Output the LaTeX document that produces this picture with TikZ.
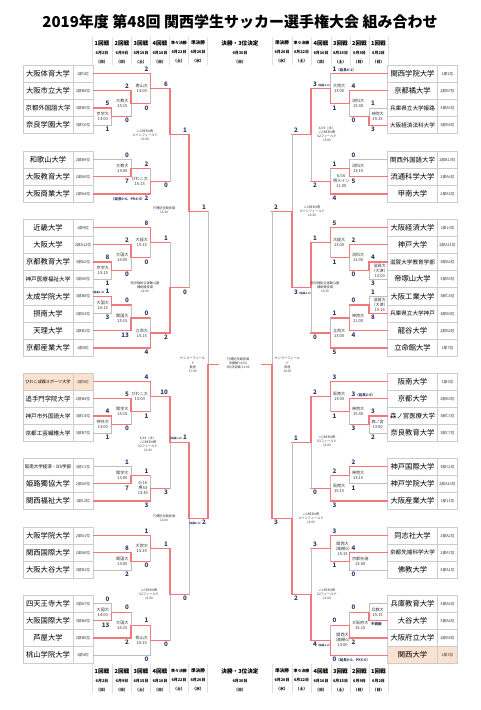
\documentclass[tikz,border=0pt]{standalone}
\usepackage{fontspec}
\setmainfont{Noto Sans CJK JP}
\usetikzlibrary{calc,positioning}
\definecolor{winred}{RGB}{243,120,126}
\definecolor{losegray}{RGB}{190,190,190}
\definecolor{cellgray}{RGB}{204,204,204}
\definecolor{scoreblue}{RGB}{44,60,104}
\definecolor{hlpeach}{RGB}{251,225,208}

\newcommand\nt[1]{{\fontsize{3.5}{3.5}\selectfont#1}}
\newcommand\tn[1]{{\fontsize{2.6}{2.6}\selectfont#1}}

% one match: name, upper entry, lower entry, column, winner (t/b), loser's entry line, upper score, lower score, venue
\newcommand\bout[9]{%
  \coordinate (#1) at ($(#2 -| #4)!.5!(#3 -| #4)$);
  \if t#5
    \draw[#6] (#3) -- (#3 -| #4);
    \draw[lose] (#3 -| #4) -- (#1);
    \draw[win] (#2) -- (#2 -| #4) -- (#1);
  \else
    \draw[#6] (#2) -- (#2 -| #4);
    \draw[lose] (#2 -| #4) -- (#1);
    \draw[win] (#3) -- (#3 -| #4) -- (#1);
  \fi
  \node[score,anchor=\tside] (#1t) at ($(#2 -| #4)+(\scx,-1.4)$) {#7};
  \node[score,anchor=\bside] (#1b) at ($(#3 -| #4)+(\scx,1)$) {#8};
  \node[venue,anchor=\vside] (#1v) at ($(#1)+(\vnx,0)$) {#9};
}

\begin{document}
\begin{tikzpicture}[x=1pt,y=-1pt,line cap=rect,
  win/.style={draw=winred,line width=1.2pt},
  lose/.style={draw=losegray,line width=1pt},
  team/.style={draw=cellgray,line width=.8pt,minimum width=50pt,minimum height=17.2pt,inner sep=0pt,font=\fontsize{7.3}{8}\selectfont},
  seed/.style={draw=cellgray,line width=.8pt,minimum width=20pt,minimum height=17.2pt,inner sep=0pt,font=\fontsize{3.8}{4}\selectfont,text=black!80},
  score/.style={font=\bfseries\fontsize{6.2}{6.2}\selectfont,text=scoreblue,inner sep=.6pt},
  venue/.style={font=\fontsize{4.1}{5}\selectfont,align=center,text=black!80,inner sep=.5pt},
  wide/.style={venue,font=\fontsize{3.2}{4.1}\selectfont},
  head/.style={font=\bfseries\fontsize{5.6}{9}\selectfont,align=center},
  heading/.style={font=\bfseries\fontsize{15}{15}\selectfont},
  colsep/.style={draw=black!12,line width=.8pt}]
\useasboundingbox (0,0) rectangle (480,710);

\node[heading] (ttl) at (240,22) {2019年度 第48回 関西学生サッカー選手権大会 組み合わせ};

% round headers, top and bottom
\foreach \x/\rd/\dt/\dy/\hs [count=\i] in {102/1回戦/6月2日/日/5.6, 122/2回戦/6月9日/日/5.6, 141/3回戦/6月15日/土/5.6, 160/4回戦/6月16日/日/5.6, 179/準々決勝/6月22日/土/3.9, 198/準決勝/6月26日/水/4.6, 282/準決勝/6月26日/水/4.6, 301.5/準々決勝/6月22日/土/3.9, 321/4回戦/6月16日/日/5.6, 340.5/3回戦/6月15日/土/5.6, 359.5/2回戦/6月9日/日/5.6, 378.5/1回戦/6月2日/日/5.6}
{
  \node[head] (ht\i) at (\x,52) {{\fontsize{\hs}{9}\selectfont\rd}\\{\fontsize{3.9}{9}\selectfont\dt}\\{\fontsize{3.9}{9}\selectfont（\dy）}};
  \node[head] (hb\i) at (\x,680) {{\fontsize{\hs}{9}\selectfont\rd}\\{\fontsize{3.9}{9}\selectfont\dt}\\{\fontsize{3.9}{9}\selectfont（\dy）}};
}
\node[head] (htf) at (240,52) {決勝・3位決定\\{\fontsize{3.9}{9}\selectfont 6月30日}\\{\fontsize{3.9}{9}\selectfont（日）}};
\node[head] (hbf) at (240,680) {決勝・3位決定\\{\fontsize{3.9}{9}\selectfont 6月30日}\\{\fontsize{3.9}{9}\selectfont（日）}};
\foreach \x in {92.7,112,131.7,150.7,169.3,188.3,207.3,272,292,311,331,350,369,388}
{
  \draw[colsep] (\x,37) -- (\x,65);
  \draw[colsep] (\x,664) -- (\x,693);
}

% teams, left
\foreach \k/\y/\nm/\sd/\fs/\fc in {
 1/73.6/大阪体育大学/1部1位/7.3/white, 2/90.8/大阪市立大学/2部B4位/7.3/white,
 3/108/京都外国語大学/3部B5位/6.4/white, 4/125.2/奈良学園大学/3部C6位/7.3/white,
 5/159.6/和歌山大学/2部B9位/7.3/white, 6/176.8/大阪教育大学/2部A5位/7.3/white,
 7/194/大阪商業大学/2部A4位/7.3/white,
 8/227.6/近畿大学/1部9位/7.3/white, 9/244.8/大阪大学/2部A12位/7.3/white,
 10/262/京都教育大学/3部A2位/7.3/white, 11/279.2/神戸医療福祉大学/3部A8位/5.6/white,
 12/296.4/太成学院大学/3部B8位/7.3/white, 13/313.6/摂南大学/3部A3位/7.3/white,
 14/330.8/天理大学/2部B1位/7.3/white, 15/348/京都産業大学/1部8位/7.3/white,
 16/381.6/びわこ成蹊スポーツ大学/1部5位/4.1/hlpeach, 17/398.8/追手門学院大学/2部B4位/6.4/white,
 18/416/神戸市外国語大学/3部C4位/5.6/white, 19/433.2/京都工芸繊維大学/3部B7位/5.6/white,
 20/466.6/阪南大学経済・DS学部/3部C1位/4.5/white, 21/483.8/姫路獨協大学/2部A9位/7.3/white,
 22/501/関西福祉大学/1部12位/7.3/white,
 23/535.6/大阪学院大学/2部A1位/7.3/white, 24/552.8/関西国際大学/2部A8位/7.3/white,
 25/570/大阪大谷大学/3部B1位/7.3/white,
 26/603.6/四天王寺大学/3部A7位/7.3/white, 27/620.8/大阪国際大学/3部B4位/7.3/white,
 28/638/芦屋大学/2部B5位/7.3/white, 29/655.2/桃山学院大学/1部4位/7.3/white}
{
  \node[team,fill=\fc,font=\fontsize{\fs}{\fs}\selectfont] (L\k) at (48,\y) {\nm};
  \node[seed,fill=\fc] (LS\k) at (83,\y) {\sd};
}

% teams, right
\foreach \k/\y/\nm/\sd/\fs/\fc in {
 1/73.6/関西学院大学/1部2位/7.3/white, 2/90.8/京都橘大学/2部B7位/7.3/white,
 3/108/兵庫県立大学姫路/3部A5位/5.6/white, 4/125.2/大阪経済法科大学/3部B6位/5.6/white,
 5/159.6/関西外国語大学/2部B10位/6.4/white, 6/176.8/流通科学大学/2部A6位/7.3/white,
 7/194/甲南大学/2部A3位/7.3/white,
 8/227.6/大阪経済大学/1部10位/7.3/white, 9/244.8/神戸大学/2部A11位/7.3/white,
 10/262/滋賀大学教育学部/3部B2位/5.6/white, 11/279.2/帝塚山大学/3部A9位/7.3/white,
 12/296.4/大阪工業大学/3部C4位/7.3/white, 13/313.6/兵庫県立大学神戸/3部B3位/5.6/white,
 14/330.8/龍谷大学/2部B2位/7.3/white, 15/348/立命館大学/1部7位/7.3/white,
 16/381.6/阪南大学/1部6位/7.3/white, 17/398.8/京都大学/2部B3位/7.3/white,
 18/416/森ノ宮医療大学/3部C3位/6.4/white, 19/433.2/奈良教育大学/3部C7位/7.3/white,
 20/466.6/神戸国際大学/3部C2位/7.3/white, 21/483.8/神戸学院大学/2部A10位/7.3/white,
 22/501/大阪産業大学/1部11位/7.3/white,
 23/535.6/同志社大学/2部A2位/7.3/white, 24/552.8/京都先端科学大学/2部A7位/5.6/white,
 25/570/佛教大学/3部A1位/7.3/white,
 26/603.6/兵庫教育大学/3部A6位/7.3/white, 27/620.8/大谷大学/3部A4位/7.3/white,
 28/638/大阪府立大学/2部B6位/7.3/white, 29/655.2/関西大学/1部3位/7.3/hlpeach}
{
  \node[team,fill=\fc,font=\fontsize{\fs}{\fs}\selectfont] (R\k) at (412.5,\y) {\nm};
  \node[seed,fill=\fc] (RS\k) at (447.5,\y) {\sd};
}

% round columns
\coordinate (c1) at (111.5,0); \coordinate (c2) at (131,0); \coordinate (c3) at (150.5,0);
\coordinate (c4) at (170,0); \coordinate (c5) at (189,0); \coordinate (c6) at (208,0);
\coordinate (d1) at (369,0); \coordinate (d2) at (349.5,0); \coordinate (d3) at (330.5,0);
\coordinate (d4) at (311,0); \coordinate (d5) at (292,0); \coordinate (d6) at (272,0);

% left half
\def\tside{south east}\def\bside{north east}\def\vside{east}\def\scx{-1.2}\def\vnx{-1.8}
\bout{m1}{LS3.east}{LS4.east}{c1}{t}{lose}{5}{1}{京学大\\13:00}
\bout{m2}{LS2.east}{m1}{c2}{t}{win}{2}{0}{大教大\\15:15}
\bout{m3}{LS1.east}{m2}{c3}{t}{win}{2}{0}{南山大\\13:00}
\bout{m4}{LS5.east}{LS6.east}{c2}{b}{lose}{0}{7}{大教大\\13:00}
\bout{m5}{m4}{LS7.east}{c3}{b}{win}{2}{\nt{（延長0-0、PK4-5）}2}{びわこ大\\15:15}
\bout{m6}{m3}{m5}{c4}{t}{win}{6}{0}{}
\bout{m7}{LS10.east}{LS11.east}{c1}{t}{lose}{8}{1}{京学大\\15:15}
\bout{m8}{LS9.east}{m7}{c2}{t}{win}{2}{0}{大国大\\14:00}
\bout{m9}{LS8.east}{m8}{c3}{t}{win}{8}{0}{大経大\\15:15}
\bout{m10}{LS12.east}{LS13.east}{c1}{t}{lose}{\tn{（延長1-0）}1}{3}{大国大\\16:15}
\bout{m11}{m10}{LS14.east}{c2}{b}{win}{0}{13}{関国大\\15:15}
\bout{m12}{m11}{LS15.east}{c3}{b}{win}{0}{4}{立命大\\15:15}
\bout{m13}{m9}{m12}{c4}{b}{win}{1}{2}{}
\bout{m14}{m6}{m13}{c5}{t}{win}{1}{0}{}
\bout{m15}{LS18.east}{LS19.east}{c1}{t}{lose}{4}{1}{神外大\\13:00}
\bout{m16}{LS17.east}{m15}{c2}{t}{win}{5}{0}{関学大\\15:15}
\bout{m17}{LS16.east}{m16}{c3}{t}{win}{4}{1}{びわこ大\\13:00}
\bout{m18}{LS20.east}{LS21.east}{c2}{b}{lose}{1}{7}{関学大\\13:00}
\bout{m19}{m18}{LS22.east}{c3}{b}{win}{1}{3}{6/16\\堺S3\\13:30}
\bout{m20}{m17}{m19}{c4}{t}{win}{10}{3}{}
\bout{m21}{LS24.east}{LS25.east}{c2}{t}{lose}{8}{2}{関国大\\13:00}
\bout{m22}{LS23.east}{m21}{c3}{t}{win}{1}{0}{大院大\\15:15}
\bout{m23}{LS26.east}{LS27.east}{c1}{b}{lose}{0}{13}{大国大\\14:00}
\bout{m24}{m23}{LS28.east}{c2}{b}{win}{0}{2}{大国大\\16:15}
\bout{m25}{m24}{LS29.east}{c3}{t}{lose}{1}{0}{桃山大\\15:15}
\bout{m26}{m22}{m25}{c4}{t}{win}{1}{0}{}
\bout{m27}{m20}{m26}{c5}{t}{win}{\tn{（延長1-0）}1}{0}{}
\bout{m28}{m14}{m27}{c6}{b}{win}{1}{\tn{（延長0-0）}2}{}
\node[wide] (m6w) at (145,135) {J-GREEN堺\\メインフィールド\\13:30};
\node[wide] (m13w) at (145,287) {西京極総合運動公園\\補助競技場\\11:00};
\node[wide] (m14w) at (164,210) {万博記念競技場\\13:30};
\node[wide] (m20w) at (148,444) {6/19（水）\\J-GREEN堺\\S2フィールド\\12:30};
\node[wide] (m26w) at (149,594) {J-GREEN堺\\S2フィールド\\11:00};
\node[wide] (m27w) at (164,518) {万博記念競技場\\11:00};
\node[wide,left=2pt of m28] (m28w) {ヤンマーフィール\\ド\\長居\\17:00};

% right half
\def\tside{south west}\def\bside{north west}\def\vside{west}\def\scx{1.2}\def\vnx{1.8}
\bout{r1}{R3.west}{R4.west}{d1}{b}{lose}{1}{3}{神院大\\15:15}
\bout{r2}{R2.west}{r1}{d2}{t}{win}{4}{0}{流科大\\15:30}
\bout{r3}{R1.west}{r2}{d3}{b}{win}{1\nt{（延長0-1）}}{1}{大院大\\13:00}
\bout{r4}{R5.west}{R6.west}{d2}{b}{lose}{0}{5}{流科大\\13:15}
\bout{r5}{r4}{R7.west}{d3}{b}{win}{1}{4}{6/16\\堺メイン\\11:00}
\bout{r6}{r3}{r5}{d4}{t}{win}{3\tn{（延長1-0）}}{2}{}
\bout{r8}{R10.west}{R11.west}{d1}{t}{lose}{4}{3}{滋賀大\\（大津）\\13:00}
\bout{r9}{R9.west}{r8}{d2}{t}{win}{2}{0}{流科大\\11:00}
\bout{r10}{R8.west}{r9}{d3}{t}{win}{5}{1}{大経大\\13:00}
\bout{r11}{R12.west}{R13.west}{d1}{b}{lose}{1}{8}{滋賀大\\（大津）\\15:15}
\bout{r12}{r11}{R14.west}{d2}{b}{win}{0}{4}{神院大\\11:00}
\bout{r13}{r12}{R15.west}{d3}{b}{win}{1}{5}{立命大\\13:00}
\bout{r14}{r10}{r13}{d4}{t}{win}{1}{0}{}
\bout{r7}{r6}{r14}{d5}{b}{win}{2}{3\tn{（延長1-0）}}{}
\bout{r15}{R18.west}{R19.west}{d1}{t}{lose}{3}{2}{森ノ宮\\13:00}
\bout{r16}{R17.west}{r15}{d2}{t}{win}{3\nt{（延長2-0）}}{3}{神院大\\15:30}
\bout{r17}{R16.west}{r16}{d3}{t}{win}{3}{1}{阪南大\\13:00}
\bout{r18}{R20.west}{R21.west}{d2}{t}{lose}{2}{1}{神院大\\13:15}
\bout{r19}{r18}{R22.west}{d3}{b}{win}{2}{3}{阪南大\\15:15}
\bout{r20}{r17}{r19}{d4}{t}{win}{2}{0}{}
\bout{r21}{R24.west}{R25.west}{d2}{t}{lose}{4}{0}{京都先端\\13:00}
\bout{r22}{R23.west}{r21}{d3}{t}{win}{3}{1}{関西大\\（高槻G）\\15:15}
\bout{r23}{R26.west}{R27.west}{d1}{b}{lose}{}{\nt{不戦勝}}{兵教大\\15:15}
\bout{r24}{r23}{R28.west}{d2}{b}{win}{0}{2}{大阪府大\\15:15}
\bout{r25}{r24}{R29.west}{d3}{b}{win}{0}{0\nt{（延長0-0、PK5-6）}}{関西大\\（高槻G）\\13:00}
\bout{r26}{r22}{r25}{d4}{b}{win}{3}{4\tn{（延長1-0）}}{}
\bout{r27}{r20}{r26}{d5}{b}{win}{1}{2}{}
\bout{r28}{r7}{r27}{d6}{b}{win}{2}{3}{}
\node[wide] (r6w) at (327,134) {6/19（水）\\J-GREEN堺\\S2フィールド\\15:00};
\node[wide] (r14w) at (325,287) {西京極総合運動公園\\補助競技場\\13:30};
\node[wide] (r7w) at (312,211) {J-GREEN堺\\メインフィールド\\13:30};
\node[wide] (r20w) at (327,441) {J-GREEN堺\\S3フィールド\\11:00};
\node[wide] (r26w) at (327,594) {J-GREEN堺\\S2フィールド\\11:00};
\node[wide] (r27w) at (311,518) {J-GREEN堺\\メインフィールド\\11:00};
\node[wide,right=2pt of r28] (r28w) {ヤンマーフィール\\ド\\長居\\14:30};

% final
\coordinate (fl) at ($(m28)+(10,0)$);
\coordinate (fr) at ($(r28)+(-10,0)$);
\draw[win] (m28) -- (fl);
\draw[win] (r28) -- (fr);
\node[wide] (fin) at (238,363) {万博記念競技場\\決勝戦 14:00\\3位決定戦 11:00};
\end{tikzpicture}
\end{document}
